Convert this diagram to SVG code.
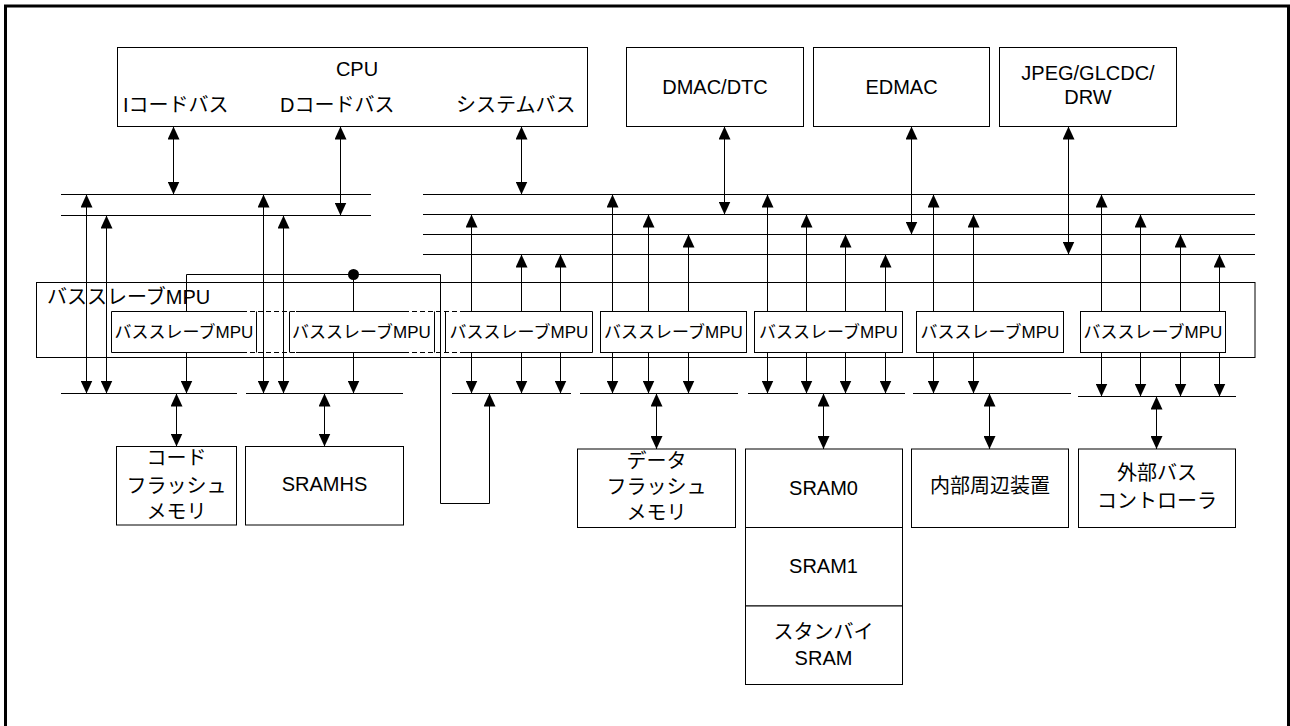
<svg xmlns="http://www.w3.org/2000/svg" width="1290" height="726" viewBox="0 0 1290 726">
<style>
.box{fill:#fff;stroke:#000;stroke-width:1}
.edge{fill:none;stroke:#000;stroke-width:1}
.dash{fill:none;stroke:#000;stroke-width:1;stroke-dasharray:5 3}
.bus{fill:none;stroke:#000;stroke-width:1}
.ar{fill:none;stroke:#000;stroke-width:1;marker-end:url(#ah)}
.da{fill:none;stroke:#000;stroke-width:1;marker-start:url(#ah);marker-end:url(#ah)}
text{font-family:"Liberation Sans","Noto Sans CJK JP",sans-serif;font-size:20px;fill:#000}
.c{text-anchor:middle}
.s{font-size:17px;text-anchor:middle}
</style>
<defs>
<marker id="ah" viewBox="0 0 13 12" refX="13" refY="6" markerWidth="13" markerHeight="12" markerUnits="userSpaceOnUse" orient="auto-start-reverse">
<path d="M0,0 L13,6 L0,12 z" fill="#000"/>
</marker>
</defs>
<rect x="0" y="0" width="1290" height="726" fill="#fff"/>
<rect x="5.5" y="6" width="1283" height="740" fill="none" stroke="#000" stroke-width="3"/>

<g id="cpu">
<rect class="box" x="117.5" y="47.5" width="470" height="79"/>
<text class="c" x="357" y="76">CPU</text>
<text x="123" y="112">Iコードバス</text>
<text x="280" y="112">Dコードバス</text>
<text x="456" y="112">システムバス</text>
</g>
<g id="dmac">
<rect class="box" x="626.5" y="47.5" width="177" height="79"/>
<text class="c" x="715" y="94">DMAC/DTC</text>
</g>
<g id="edmac">
<rect class="box" x="813.5" y="47.5" width="176" height="79"/>
<text class="c" x="901.5" y="94">EDMAC</text>
</g>
<g id="jpeg">
<rect class="box" x="999.5" y="47.5" width="177" height="79"/>
<text class="c" x="1088" y="80">JPEG/GLCDC/</text>
<text class="c" x="1088" y="104">DRW</text>
</g>

<g id="mpu-outer">
<rect class="edge" x="36.5" y="282.5" width="1218.5" height="75"/>
<text x="47" y="304">バススレーブMPU</text>
</g>
<g id="mpu1">
<path class="edge" d="M242,311.5 H111.5 V352.5 H242 M256.5,311.5 V352.5"/>
<text class="s" x="184" y="338">バススレーブMPU</text>
</g>
<g id="mpu-gap1">
<path class="dash" d="M242,311.5 H296 M242,352.5 H296"/>
</g>
<g id="mpu2">
<path class="edge" d="M296,311.5 H404 M296,352.5 H404 M289.5,311.5 V352.5 M434.5,311.5 V352.5"/>
<text class="s" x="361.5" y="338">バススレーブMPU</text>
</g>
<g id="mpu-gap2">
<path class="dash" d="M404,311.5 H460 M404,352.5 H460"/>
</g>
<g id="mpu3">
<path class="edge" d="M460,311.5 H592.5 V352.5 H460 M445.5,311.5 V352.5"/>
<text class="s" x="519" y="338">バススレーブMPU</text>
</g>
<g id="mpu4">
<rect class="edge" x="600.5" y="311.5" width="146" height="41"/>
<text class="s" x="673.5" y="338">バススレーブMPU</text>
</g>
<g id="mpu5">
<rect class="edge" x="754.5" y="311.5" width="148" height="41"/>
<text class="s" x="828.5" y="338">バススレーブMPU</text>
</g>
<g id="mpu6">
<rect class="edge" x="916.5" y="311.5" width="147" height="41"/>
<text class="s" x="990" y="338">バススレーブMPU</text>
</g>
<g id="mpu7">
<rect class="edge" x="1080.5" y="311.5" width="145" height="41"/>
<text class="s" x="1153" y="338">バススレーブMPU</text>
</g>

<g id="codeflash">
<rect class="box" x="116.5" y="446.5" width="120" height="78.5"/>
<text class="c" x="176.5" y="465">コード</text>
<text class="c" x="176.5" y="493">フラッシュ</text>
<text class="c" x="176.5" y="519">メモリ</text>
</g>
<g id="sramhs">
<rect class="box" x="245.5" y="446.5" width="158" height="78.5"/>
<text class="c" x="324.5" y="491">SRAMHS</text>
</g>
<g id="dataflash">
<rect class="box" x="577.5" y="449" width="158" height="78.5"/>
<text class="c" x="656.5" y="468">データ</text>
<text class="c" x="656.5" y="494">フラッシュ</text>
<text class="c" x="656.5" y="520">メモリ</text>
</g>
<g id="sram0">
<rect class="box" x="745.5" y="449" width="157" height="78.5"/>
<text class="c" x="823.5" y="495">SRAM0</text>
</g>
<g id="sram1">
<rect class="box" x="745.5" y="527.5" width="157" height="78.5"/>
<text class="c" x="823.5" y="573">SRAM1</text>
</g>
<g id="standby">
<rect class="box" x="745.5" y="606" width="157" height="78.5"/>
<text class="c" x="823.5" y="639">スタンバイ</text>
<text class="c" x="823.5" y="665">SRAM</text>
</g>
<g id="periph">
<rect class="box" x="911.5" y="449" width="157" height="78.5"/>
<text class="c" x="990" y="493">内部周辺装置</text>
</g>
<g id="extbus">
<rect class="box" x="1078.5" y="449" width="157" height="78.5"/>
<text class="c" x="1157" y="480">外部バス</text>
<text class="c" x="1157" y="508">コントローラ</text>
</g>

<g id="connectors">
<!-- buses -->
<path class="bus" d="M61,194.5 H371 M61,215.5 H371"/>
<path class="bus" d="M423,194.5 H1255 M423,214.5 H1255 M423,234.5 H1255 M423,254.5 H1255"/>
<path class="bus" d="M61,393.5 H237 M246,393.5 H403 M452,393.5 H571 M580,393.5 H738 M748,393.5 H905 M913,393.5 H1071 M1078,396.5 H1236"/>
<!-- top masters -->
<path class="da" d="M173.5,126.5 V194.5"/>
<path class="da" d="M340.5,126.5 V215.5"/>
<path class="da" d="M521.5,126.5 V194.5"/>
<path class="da" d="M724.5,126.5 V214.5"/>
<path class="da" d="M911.5,126.5 V234.5"/>
<path class="da" d="M1068.5,126.5 V254.5"/>
<!-- left pass-through -->
<path class="da" d="M86.5,194.5 V393.5"/>
<path class="da" d="M106.5,215.5 V393.5"/>
<path class="da" d="M263.5,194.5 V393.5"/>
<path class="da" d="M283.5,215.5 V393.5"/>
<path class="ar" d="M186.5,352.5 V393.5"/>
<path class="ar" d="M353.5,352.5 V393.5"/>
<!-- loop -->
<path class="ar" d="M186.5,311.5 V274.5 H440.5 V503.5 H489.5 V393.5"/>
<path class="edge" d="M353.5,274.5 V311.5"/>
<circle cx="353.5" cy="274.5" r="5.5" fill="#000"/>
<!-- MPU3 -->
<path class="ar" d="M471.5,311.5 V214.5"/>
<path class="ar" d="M521.5,311.5 V254.5"/>
<path class="ar" d="M560.5,311.5 V254.5"/>
<path class="ar" d="M471.5,352.5 V393.5"/>
<path class="ar" d="M521.5,352.5 V393.5"/>
<path class="ar" d="M560.5,352.5 V393.5"/>
<!-- MPU4 -->
<path class="ar" d="M612.5,311.5 V194.5"/>
<path class="ar" d="M648.5,311.5 V214.5"/>
<path class="ar" d="M688.5,311.5 V234.5"/>
<path class="ar" d="M612.5,352.5 V393.5"/>
<path class="ar" d="M648.5,352.5 V393.5"/>
<path class="ar" d="M688.5,352.5 V393.5"/>
<!-- MPU5 -->
<path class="ar" d="M767.5,311.5 V194.5"/>
<path class="ar" d="M806.5,311.5 V214.5"/>
<path class="ar" d="M845.5,311.5 V234.5"/>
<path class="ar" d="M885.5,311.5 V254.5"/>
<path class="ar" d="M767.5,352.5 V393.5"/>
<path class="ar" d="M806.5,352.5 V393.5"/>
<path class="ar" d="M845.5,352.5 V393.5"/>
<path class="ar" d="M885.5,352.5 V393.5"/>
<!-- MPU6 -->
<path class="ar" d="M933.5,311.5 V194.5"/>
<path class="ar" d="M973.5,311.5 V214.5"/>
<path class="ar" d="M933.5,352.5 V393.5"/>
<path class="ar" d="M973.5,352.5 V393.5"/>
<!-- MPU7 -->
<path class="ar" d="M1101.5,311.5 V194.5"/>
<path class="ar" d="M1140.5,311.5 V214.5"/>
<path class="ar" d="M1180.5,311.5 V234.5"/>
<path class="ar" d="M1219.5,311.5 V254.5"/>
<path class="ar" d="M1101.5,352.5 V396.5"/>
<path class="ar" d="M1140.5,352.5 V396.5"/>
<path class="ar" d="M1180.5,352.5 V396.5"/>
<path class="ar" d="M1219.5,352.5 V396.5"/>
<!-- slaves -->
<path class="da" d="M176.5,393.5 V446.5"/>
<path class="da" d="M324.5,393.5 V446.5"/>
<path class="da" d="M656.5,393.5 V449"/>
<path class="da" d="M823.5,393.5 V449"/>
<path class="da" d="M989.5,393.5 V449"/>
<path class="da" d="M1156.5,396.5 V449"/>
</g>
</svg>
